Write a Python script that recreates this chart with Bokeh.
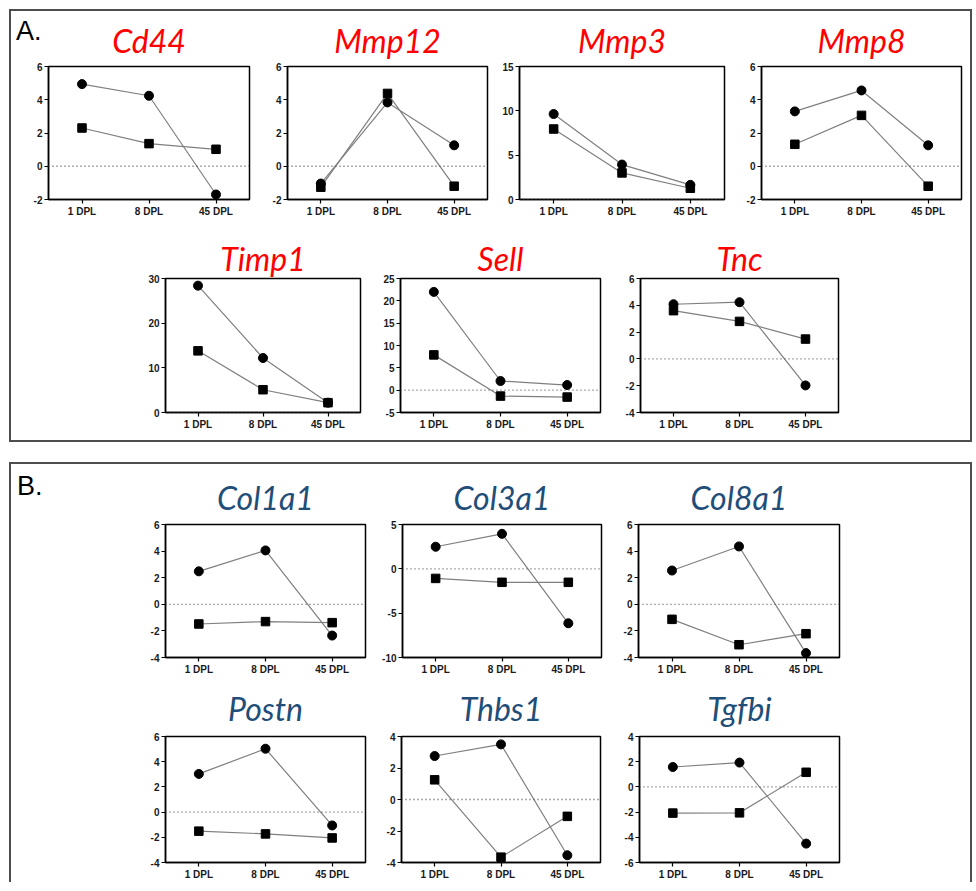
from bokeh.plotting import figure
from bokeh.layouts import column, row
from bokeh.models import Range1d, FixedTicker, SingleIntervalTicker, Span, Spacer, Div
from bokeh.embed import file_html
from bokeh.resources import INLINE

# ---------------- data ----------------
DPL_LABELS = ["1 DPL", "8 DPL", "45 DPL"]
DPL_X = [1, 2, 3]

# circle series / square series, one pair per gene
cd44_circle = [4.94, 4.24, -1.70]
cd44_square = [2.30, 1.36, 1.02]
mmp12_circle = [-1.04, 3.84, 1.26]
mmp12_square = [-1.26, 4.38, -1.20]
mmp3_circle = [9.64, 3.94, 1.65]
mmp3_square = [7.95, 3.00, 1.27]
mmp8_circle = [3.30, 4.56, 1.26]
mmp8_square = [1.32, 3.06, -1.20]
timp1_circle = [28.4, 12.2, 2.2]
timp1_square = [13.8, 5.1, 2.2]
sell_circle = [22.0, 2.05, 1.15]
sell_square = [7.9, -1.33, -1.55]
tnc_circle = [4.08, 4.23, -1.98]
tnc_square = [3.60, 2.80, 1.48]

col1a1_circle = [2.48, 4.05, -2.35]
col1a1_square = [-1.48, -1.30, -1.38]
col3a1_circle = [2.49, 3.95, -6.14]
col3a1_square = [-1.08, -1.52, -1.52]
col8a1_circle = [2.54, 4.35, -3.67]
col8a1_square = [-1.13, -3.04, -2.21]
postn_circle = [3.03, 5.03, -1.06]
postn_square = [-1.51, -1.73, -2.05]
thbs1_circle = [2.76, 3.50, -3.54]
thbs1_square = [1.25, -3.66, -1.07]
tgfbi_circle = [1.58, 1.93, -4.50]
tgfbi_square = [-2.08, -2.06, 1.16]

# y axis (min, max, tick step)
cd44_axis = (-2, 6, 2)
mmp12_axis = (-2, 6, 2)
mmp3_axis = (0, 15, 5)
mmp8_axis = (-2, 6, 2)
timp1_axis = (0, 30, 10)
sell_axis = (-5, 25, 5)
tnc_axis = (-4, 6, 2)
col1a1_axis = (-4, 6, 2)
col3a1_axis = (-10, 5, 5)
col8a1_axis = (-4, 6, 2)
postn_axis = (-4, 6, 2)
thbs1_axis = (-4, 4, 2)
tgfbi_axis = (-6, 4, 2)

RED = "#ff0000"
BLUE = "#1f4e79"
TICK_FONT = "Liberation Sans"
TITLE_FONT = "Lato"


def panel(name, color, circ, sq, axis, geom, standoff):
    mbl, fw, mbr, mbt, fh, mbb = geom
    ylo, yhi, step = axis
    p = figure(width=mbl + fw + mbr, height=mbt + fh + mbb,
               x_range=Range1d(0.5, 3.5), y_range=Range1d(ylo, yhi),
               min_border_left=mbl, min_border_right=mbr,
               min_border_top=mbt, min_border_bottom=mbb,
               output_backend="svg", toolbar_location=None, title=name)
    p.title.text_font = TITLE_FONT
    p.title.text_font_style = "italic"
    p.title.text_font_size = "32px"
    p.title.text_color = color
    p.title.align = "center"
    p.title.standoff = standoff
    p.xgrid.visible = False
    p.ygrid.visible = False
    p.outline_line_color = "black"
    p.outline_line_width = 1.5
    p.outline_line_alpha = 1.0
    p.background_fill_color = "white"
    p.border_fill_color = "white"

    p.xaxis.ticker = FixedTicker(ticks=DPL_X)
    p.xaxis.major_label_overrides = {x: lab for x, lab in zip(DPL_X, DPL_LABELS)}
    p.yaxis.ticker = SingleIntervalTicker(interval=step, num_minor_ticks=0)
    p.yaxis.major_label_overrides = {v: str(v) for v in range(ylo, yhi + 1, step)}
    for ax in (p.xaxis[0], p.yaxis[0]):
        ax.axis_line_color = "black"
        ax.axis_line_width = 1.5
        ax.major_tick_line_color = "black"
        ax.major_tick_line_width = 1.2
        ax.major_tick_in = 0
        ax.major_tick_out = 4
        ax.minor_tick_line_color = None
        ax.major_label_text_font = TICK_FONT
        ax.major_label_text_font_style = "bold"
        ax.major_label_text_font_size = "10px"
        ax.major_label_text_color = "#1a1a1a"
        ax.major_label_standoff = 2

    p.add_layout(Span(location=0, dimension="width", line_color="#555555",
                      line_dash="1 3", line_width=1.3))
    p.line(DPL_X, circ, line_color="#7f7f7f", line_width=1.2)
    p.line(DPL_X, sq, line_color="#7f7f7f", line_width=1.2)
    p.scatter(DPL_X, circ, marker="circle", size=9, color="black")
    p.scatter(DPL_X, sq, marker="square", size=8.5, color="black")
    return p


def letter(text, left, top):
    return Div(text=text, styles={"position": "absolute", "left": f"{left}px",
                                  "top": f"{top}px", "font-family": "Liberation Sans, Arial, sans-serif",
                                  "font-size": "27px", "line-height": "1", "color": "black",
                                  "z-index": "5", "margin": "0", "padding": "0"})


# geometry: (border_left, frame_w, border_right, border_top, frame_h, border_bottom)
A1 = (55, 133, 30)
A2 = (49, 134, 28)
B1 = (60, 133, 20)
B2 = (57, 131, 17)

p_cd44 = panel("Cd44", RED, cd44_circle, cd44_square, cd44_axis, (37, 201, 12) + A1, 13)
p_mmp12 = panel("Mmp12", RED, mmp12_circle, mmp12_square, mmp12_axis, (26, 200, 7) + A1, 13)
p_mmp3 = panel("Mmp3", RED, mmp3_circle, mmp3_square, mmp3_axis, (25, 205, 10) + A1, 13)
p_mmp8 = panel("Mmp8", RED, mmp8_circle, mmp8_square, mmp8_axis, (27, 200, 9) + A1, 13)
p_timp1 = panel("Timp1", RED, timp1_circle, timp1_square, timp1_axis, (154, 195, 17) + A2, 2)
p_sell = panel("Sell", RED, sell_circle, sell_square, sell_axis, (23, 200, 16) + A2, 2)
p_tnc = panel("Tnc", RED, tnc_circle, tnc_square, tnc_axis, (24, 198, 16) + A2, 2)

p_col1a1 = panel("Col1a1", BLUE, col1a1_circle, col1a1_square, col1a1_axis, (154, 200, 14) + B1, 16)
p_col3a1 = panel("Col3a1", BLUE, col3a1_circle, col3a1_square, col3a1_axis, (22, 200, 13) + B1, 16)
p_col8a1 = panel("Col8a1", BLUE, col8a1_circle, col8a1_square, col8a1_axis, (24, 201, 15) + B1, 16)
p_postn = panel("Postn", BLUE, postn_circle, postn_square, postn_axis, (154, 200, 14) + B2, 18)
p_thbs1 = panel("Thbs1", BLUE, thbs1_circle, thbs1_square, thbs1_axis, (22, 199, 14) + B2, 18)
p_tgfbi = panel("Tgfbi", BLUE, tgfbi_circle, tgfbi_square, tgfbi_axis, (25, 200, 15) + B2, 18)

boxA = column(row(p_cd44, p_mmp12, p_mmp3, p_mmp8),
              row(p_timp1, p_sell, p_tnc),
              letter("A.", 5, 7),
              styles={"border": "2px solid #4d4d4d", "position": "relative"})
boxB = column(row(p_col1a1, p_col3a1, p_col8a1, Spacer(width=116, height=10)),
              row(p_postn, p_thbs1, p_tgfbi, Spacer(width=116, height=10)),
              letter("B.", 6, 9),
              styles={"border": "2px solid #4d4d4d", "border-bottom": "none",
                      "position": "relative"})
layout = column(Spacer(height=9, width=10),
                row(Spacer(width=9, height=10),
                    column(boxA, Spacer(height=20, width=10), boxB)))

open("out.html", "w").write(file_html(layout, INLINE))
